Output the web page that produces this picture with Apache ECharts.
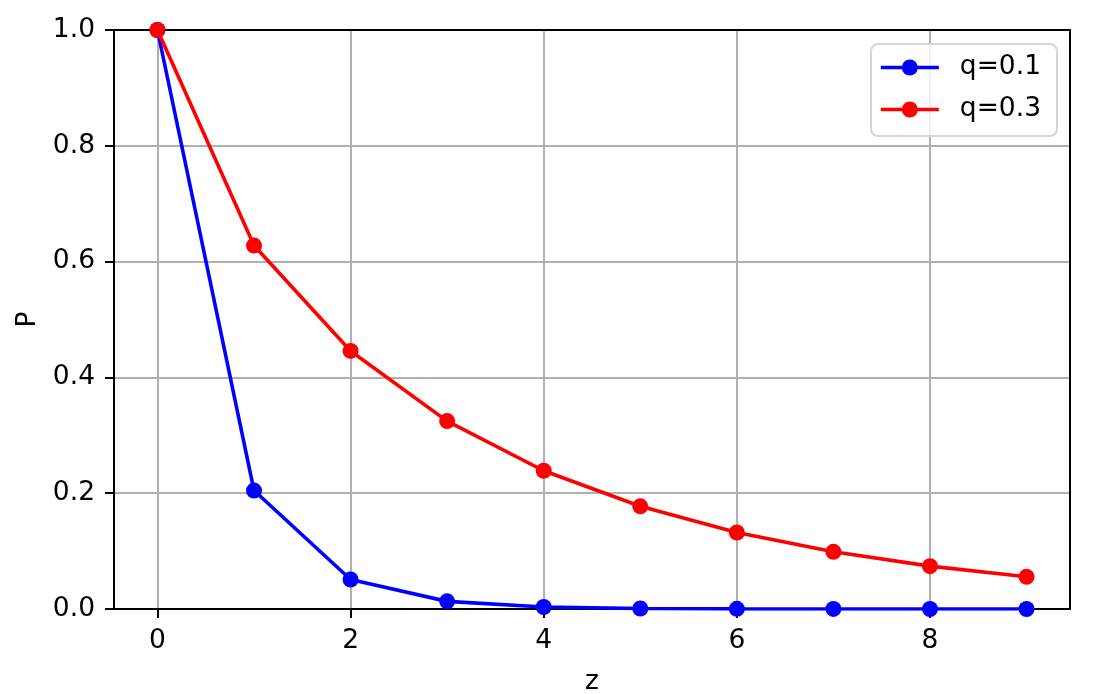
<!DOCTYPE html>
<html>
<head>
<meta charset="utf-8">
<script src="https://cdn.jsdelivr.net/npm/echarts@6/dist/echarts.min.js"></script>
<style>html,body{margin:0;padding:0;background:#fff;overflow:hidden;}#c{width:1096px;height:694px;}</style>
</head>
<body>
<div id="c"></div>
<script>
var zValues = [0, 1, 2, 3, 4, 5, 6, 7, 8, 9];
var q01 = [1.0, 0.2045873, 0.0509779, 0.0131722, 0.0034552, 0.0009137, 0.0002428, 0.0000647, 0.0000173, 0.0000046];
var q03 = [1.0, 0.6277, 0.4457, 0.3245, 0.2388, 0.1773523, 0.1321, 0.0988, 0.0740, 0.0556];
var xTicks = [0, 2, 4, 6, 8];
var seriesNames = ['q=0.1', 'q=0.3'];

var font = 'DejaVu Sans';
var fs = 26.5;
var chart = echarts.init(document.getElementById('c'), null, {renderer: 'canvas'});
function pairs(ys) { return zValues.map(function (z, i) { return [z, ys[i]]; }); }
chart.setOption({
  animation: false,
  backgroundColor: '#fff',
  textStyle: {fontFamily: font},
  grid: {left: 114, right: 26, top: 30, bottom: 85, containLabel: false, outerBoundsMode: 'none'},
  legend: {
    right: 39, top: 44,
    orient: 'vertical',
    data: seriesNames,
    itemWidth: 58, itemHeight: 20, itemGap: 15,
    padding: [10, 16, 13, 8],
    borderColor: '#d6d6d6', borderWidth: 2, borderRadius: 7,
    backgroundColor: 'rgba(255,255,255,0.8)',
    lineStyle: {width: 3.6},
    textStyle: {fontFamily: font, fontSize: fs, color: '#000', padding: [0, 0, 0, 16]}
  },
  xAxis: [{
    type: 'value', min: -0.45, max: 9.45,
    name: 'z', nameLocation: 'middle', nameGap: 60,
    nameTextStyle: {fontFamily: font, fontSize: fs, color: '#000'},
    axisLine: {show: true, onZero: false, lineStyle: {color: '#000', width: 2}},
    axisTick: {show: true, inside: false, length: 9, customValues: xTicks, lineStyle: {color: '#000', width: 2}},
    axisLabel: {customValues: xTicks, fontFamily: font, fontSize: fs, color: '#000', margin: 19},
    splitLine: {show: true, lineStyle: {color: '#b0b0b0', width: 2}}
  }, {
    type: 'value', position: 'top', min: -0.45, max: 9.45,
    axisLine: {show: true, onZero: false, lineStyle: {color: '#000', width: 2}},
    axisTick: {show: false}, axisLabel: {show: false}, splitLine: {show: false}
  }],
  yAxis: [{
    type: 'value', min: 0, max: 1, interval: 0.2,
    name: 'P', nameLocation: 'middle', nameGap: 72,
    nameTextStyle: {fontFamily: font, fontSize: fs, color: '#000'},
    axisLine: {show: true, onZero: false, lineStyle: {color: '#000', width: 2}},
    axisTick: {show: true, inside: false, length: 9, lineStyle: {color: '#000', width: 2}},
    axisLabel: {fontFamily: font, fontSize: fs, color: '#000', margin: 19, formatter: function (v) { return v.toFixed(1); }},
    splitLine: {show: true, lineStyle: {color: '#b0b0b0', width: 2}}
  }, {
    type: 'value', position: 'right', min: 0, max: 1,
    axisLine: {show: true, onZero: false, lineStyle: {color: '#000', width: 2}},
    axisTick: {show: false}, axisLabel: {show: false}, splitLine: {show: false}
  }],
  series: [{
    name: seriesNames[0], type: 'line', data: pairs(q01),
    symbol: 'circle', symbolSize: 16,
    lineStyle: {color: '#0000ff', width: 3.6},
    itemStyle: {color: '#0000ff'}, z: 2
  }, {
    name: seriesNames[1], type: 'line', data: pairs(q03),
    symbol: 'circle', symbolSize: 16,
    lineStyle: {color: '#ff0000', width: 3.6},
    itemStyle: {color: '#ff0000'}, z: 3
  }]
});
</script>
</body>
</html>
